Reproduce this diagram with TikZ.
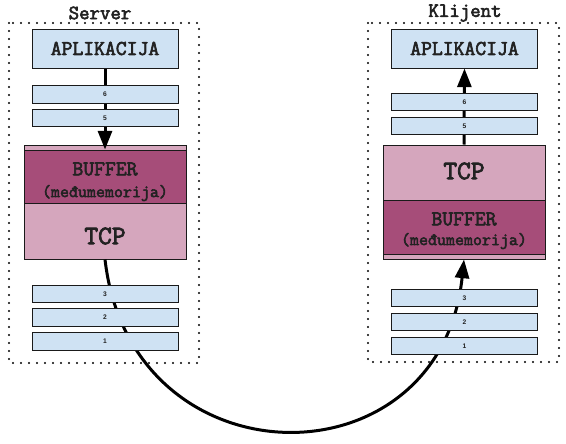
\documentclass[tikz,border=0pt]{standalone}
\usepackage{fontspec}
\setmainfont{Liberation Serif}
\newfontfamily\numf{Liberation Sans}
\newfontfamily\cour[FakeBold=3]{Latin Modern Mono}
\usetikzlibrary{arrows.meta}
\definecolor{lblue}{HTML}{CFE2F3}
\definecolor{lpink}{HTML}{D5A6BD}
\definecolor{dpink}{HTML}{A64D79}
\definecolor{edgec}{HTML}{1A1A1A}
\definecolor{txt}{HTML}{222222}
\begin{document}
\begin{tikzpicture}[x=0.75pt,y=-0.75pt,
  frame/.style={draw=black, line width=1.6pt, dash pattern=on 0pt off 6pt, line cap=round},
  title/.style={text=txt, inner sep=0pt, font=\cour\fontsize{15.2}{17}\selectfont},
  appbox/.style={draw=edgec, fill=lblue, line width=0.75pt, minimum width=109.5pt, minimum height=29.25pt, inner sep=0pt, text=txt, font=\cour\fontsize{15.8}{18}\selectfont},
  segbox/.style={draw=edgec, fill=lblue, line width=0.75pt, minimum width=109.5pt, minimum height=13.1pt, inner sep=0pt, text=txt, font=\numf\bfseries\fontsize{5}{6}\selectfont},
  blockbox/.style={draw=edgec, fill=lpink, line width=0.75pt, minimum width=121.5pt, minimum height=85.5pt, inner sep=0pt},
  bufbox/.style={draw=edgec, fill=dpink, line width=0.75pt, minimum width=121.5pt, inner sep=0pt},
  tcpbox/.style={draw=edgec, fill=lpink, line width=0.75pt, minimum width=121.5pt, inner sep=0pt},
  tcptext/.style={text=txt, inner sep=0pt, font=\cour\fontsize{20}{22}\selectfont},
  buftext/.style={text=txt, inner sep=0pt, font=\cour\fontsize{15.8}{18}\selectfont},
  memtext/.style={text=txt, inner sep=0pt, font=\cour\fontsize{13.1}{15}\selectfont},
  arr/.style={draw=black, line width=2.25pt, -{Triangle[length=14pt,width=10.5pt]}}
]
\useasboundingbox (0,0) rectangle (566,443);
% frames
\draw[frame] (9,23) rectangle (199,363);
\draw[frame] (368,23) rectangle (559,362);
\node[title] (stitle) at (100,13) {Server};
\node[title] (ctitle) at (465,13) {Klijent};
% application boxes
\node[appbox] (sapp) at (105,48.5) {APLIKACIJA};
\node[appbox] (capp) at (464.5,48.5) {APLIKACIJA};
% server TCP block
\node[blockbox] (sblk) at (105,202) {};
\node[bufbox, minimum height=39.75pt] (sbuf) at (105,176.5) {};
\node[tcpbox, minimum height=42pt] (stcp) at (105,231) {};
\node[buftext] (sbuft) at (105,169) {BUFFER};
\node[memtext] (smemt) at (105,193) {(međumemorija)};
\node[tcptext] (stcpt) at (105,236) {TCP};
% client TCP block
\node[blockbox] (cblk) at (464,202) {};
\node[tcpbox, minimum height=41.25pt] (ctcp) at (464,172.5) {};
\node[bufbox, minimum height=40.5pt] (cbuf) at (464,227) {};
\node[tcptext] (ctcpt) at (464,171) {TCP};
\node[buftext] (cbuft) at (464,219) {BUFFER};
\node[memtext] (cmemt) at (464,241) {(međumemorija)};
% arrows
\draw[arr] (sapp.south) -- (sbuf.north);
\draw[arr] (cblk.north) -- (capp.south);
\draw[arr] (stcp.south) .. controls +(26,226) and +(-24,229) .. (cblk.south);
% segment boxes
\node[segbox] (s6) at (105,94.5) {6};
\node[segbox] (s5) at (105,118) {5};
\node[segbox] (s3) at (105,294) {3};
\node[segbox] (s2) at (105,317.5) {2};
\node[segbox] (s1) at (105,341.5) {1};
\node[segbox] (c6) at (464.5,102) {6};
\node[segbox] (c5) at (464.5,126) {5};
\node[segbox] (c3) at (464.5,298) {3};
\node[segbox] (c2) at (464.5,322) {2};
\node[segbox] (c1) at (464.5,346) {1};
\end{tikzpicture}
\end{document}
